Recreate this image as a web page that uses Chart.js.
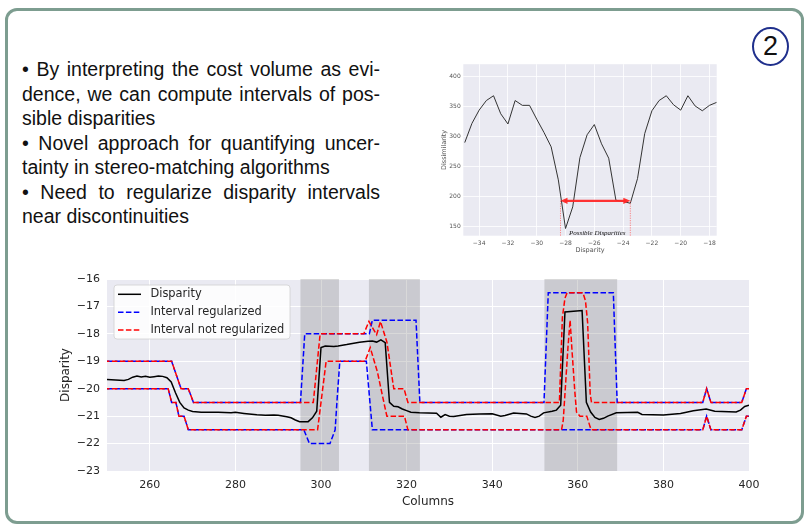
<!DOCTYPE html>
<html>
<head>
<meta charset="utf-8">
<script src="https://cdn.jsdelivr.net/npm/chart.js@4.4.1/dist/chart.umd.min.js"></script>
<style>
  html, body { margin: 0; padding: 0; background: #fff; }
  body { width: 809px; height: 527px; position: relative; overflow: hidden; }
  #frame { position: absolute; left: 5px; top: 8px; width: 799px; height: 516px; box-sizing: border-box;
           border: 3px solid #7d9d90; border-radius: 12px; }
  #bullets { position: absolute; left: 22px; top: 57px; width: 358px; color: #111;
             font-family: 'Liberation Sans', Arial, sans-serif; font-size: 19.5px; line-height: 24.5px; }
  #bullets .j { text-align: justify; text-align-last: justify; }
  #badge { position: absolute; left: 752px; top: 27px; width: 37px; height: 39px; box-sizing: border-box;
           border: 2px solid #1f2f8c; border-radius: 50%; display: flex; align-items: center; justify-content: center;
           font-family: 'Liberation Sans', Arial, sans-serif; font-size: 27px; color: #111; }
  #insetBox { position: absolute; left: 430px; top: 58px; width: 300px; height: 205px; }
  #mainBox { position: absolute; left: 40px; top: 262px; width: 730px; height: 258px; }
</style>
</head>
<body>
<div id="frame"></div>
<div id="bullets">
  <div class="j">• By interpreting the cost volume as evi-</div>
  <div class="j">dence, we can compute intervals of pos-</div>
  <div>sible disparities</div>
  <div class="j">• Novel approach for quantifying uncer-</div>
  <div>tainty in stereo-matching algorithms</div>
  <div class="j">• Need to regularize disparity intervals</div>
  <div>near discontinuities</div>
</div>
<div id="badge">2</div>
<div id="insetBox"><canvas id="inset"></canvas></div>
<div id="mainBox"><canvas id="main"></canvas></div>

<script>
// ---- main chart data: [column, disparity] ----
const xTicks = [260, 280, 300, 320, 340, 360, 380, 400];
const yTicks = [-23, -22, -21, -20, -19, -18, -17, -16];
const grayBands = [[295.2, 304.2], [311.2, 323.1], [352.2, 369.2]];

const disparity = [
  [250, -19.66], [252, -19.68], [254, -19.7], [255, -19.66], [256, -19.58], [257, -19.54], [258, -19.57],
  [259, -19.55], [260, -19.58], [261, -19.56], [262, -19.54], [263, -19.55], [264, -19.6], [265, -19.75],
  [266, -20.15], [267, -20.5], [268, -20.7], [269, -20.78], [270, -20.83], [272, -20.86], [276, -20.86],
  [279, -20.88], [280, -20.86], [282, -20.9], [285, -20.95], [287, -20.97], [289, -20.96], [290, -20.97],
  [292, -21.02], [293, -21.06], [294, -21.14], [295, -21.2], [297, -21.2], [298, -21.06], [299, -20.82],
  [300, -18.5], [301, -18.44], [303, -18.46], [304, -18.44], [306, -18.39], [307, -18.36], [309, -18.31],
  [311, -18.27], [312, -18.26], [313, -18.3], [314, -18.22], [315, -18.32], [316, -20.5], [317, -20.64],
  [318, -20.66], [319, -20.74], [320, -20.8], [321, -20.86], [323, -20.88], [327, -20.89], [328, -21.04],
  [329, -20.94], [330, -21.0], [331, -21.01], [334, -20.94], [337, -20.92], [340, -20.91], [342, -21.0],
  [343, -20.98], [345, -20.89], [348, -20.92], [349, -21.0], [350, -21.05], [351, -21.0], [352, -20.88],
  [354, -20.82], [355, -20.78], [356, -20.6], [357, -17.2], [361, -17.15], [362, -20.5], [363, -20.85],
  [364, -21.05], [365, -21.12], [366, -21.08], [367, -21.0], [369, -20.88], [374, -20.86], [375, -20.94],
  [380, -20.96], [384, -20.9], [387, -20.8], [390, -20.74], [392, -20.82], [397, -20.85], [398, -20.78],
  [399, -20.65], [400, -20.6]
];

const regUpper = [
  [250, -19], [265.1, -19], [267.3, -20], [269, -20], [270.2, -20.5], [295.2, -20.5], [296.2, -18],
  [311.3, -18], [312, -17.5], [322.2, -17.5], [323.1, -20.5], [352.1, -20.5], [353.1, -16.5],
  [368.3, -16.5], [369.2, -20.5], [389.2, -20.5], [390.1, -20], [391.1, -20.5], [398.3, -20.5],
  [399.4, -20], [400, -20]
];
const regLower = [
  [250, -20], [264.3, -20], [265.1, -20.5], [266.1, -20.5], [266.8, -21], [268, -21], [269, -21.5],
  [296, -21.5], [297.3, -22], [302.1, -22], [303.3, -21.5], [303.8, -20.3], [304.4, -19], [310.6, -19],
  [312, -21.5], [389.2, -21.5], [390.1, -21], [391.1, -21.5], [398.3, -21.5], [399.4, -21], [400, -21]
];
const rawUpper = [
  [250, -19], [265.1, -19], [267.3, -20], [269, -20], [270.2, -20.5], [298.2, -20.5], [299.8, -18],
  [310, -18], [311.2, -17.55], [313, -18.03], [313.9, -17.55], [315.4, -18.3], [317, -20], [319.4, -20],
  [320.3, -20.5], [355.7, -20.5], [356.4, -17.4], [357, -16.7], [357.5, -16.5], [361.2, -16.5],
  [361.8, -16.8], [362.3, -17.6], [362.9, -20.2], [363.2, -20.5], [389.2, -20.5], [390.1, -20],
  [391.1, -20.5], [398.3, -20.5], [399.4, -20], [400, -20]
];
const rawLower = [
  [250, -20], [264.3, -20], [265.1, -20.5], [266.1, -20.5], [266.8, -21], [268, -21], [269, -21.5],
  [299.2, -21.5], [301.2, -19], [310.3, -19], [311.5, -18.5], [313.2, -19.4], [315.1, -20.8], [315.4, -21],
  [319.5, -21], [320.3, -21.5], [356.2, -21.5], [356.6, -21.15], [357.2, -19.7], [357.7, -18.5],
  [358.2, -17.5], [358.6, -18.5], [359.3, -20.1], [359.7, -20.85], [360.5, -21], [362.1, -21],
  [362.9, -21.4], [363.2, -21.5], [389.2, -21.5], [390.1, -21], [391.1, -21.5], [398.3, -21.5],
  [399.4, -21], [400, -21]
];

// ---- inset data: dissimilarity curve ----
const costDisp = [-35, -34.5, -34, -33.5, -33, -32.5, -32, -31.5, -31, -30.5, -30, -29.5, -29, -28.5,
  -28, -27.5, -27, -26.5, -26, -25.5, -25, -24.5, -24, -23.5, -23, -22.5, -22, -21.5, -21, -20.5,
  -20, -19.5, -19, -18.5, -18, -17.5];
const costVals = [290, 322, 344, 360, 368, 338, 321, 360, 352, 352, 329, 307, 283, 228, 147, 183, 265,
  303, 320, 288, 264, 194, 192, 189, 230, 305, 343, 360, 368, 353, 344, 368, 351, 343, 352, 357];
const insetXTicks = [-34, -32, -30, -28, -26, -24, -22, -20, -18];
const insetYTicks = [150, 200, 250, 300, 350, 400];
const possibleRange = [-28.35, -23.5];
const arrowLevel = 193;

const minus = v => String(v).replace('-', '\u2212');
const pts = arr => arr.map(([x, y]) => ({ x, y }));
const DASH = [5.5, 2.4];
const tickFont = { family: 'DejaVu Sans', size: 11 };

const plotBg = {
  id: 'plotBg',
  beforeDraw(chart) {
    const { ctx, chartArea: a } = chart;
    ctx.save();
    ctx.fillStyle = '#eaeaf2';
    ctx.fillRect(a.left, a.top, a.width, a.height);
    ctx.restore();
  },
};

const bands = {
  id: 'bands',
  beforeDatasetsDraw(chart) {
    const { ctx, chartArea: a, scales: { x } } = chart;
    ctx.save();
    ctx.fillStyle = 'rgba(128,128,128,0.3)';
    grayBands.forEach(([c0, c1]) => {
      const p0 = x.getPixelForValue(c0), p1 = x.getPixelForValue(c1);
      ctx.fillRect(p0, a.top, p1 - p0, a.height);
    });
    ctx.restore();
  },
};

const legendBox = {
  id: 'legendBox',
  afterDatasetsDraw(chart) {
    const { ctx, chartArea: a } = chart;
    const left = a.left + 7, top = a.top + 6;
    ctx.save();
    ctx.fillStyle = 'rgba(255,255,255,0.85)';
    ctx.strokeStyle = '#d0d0d0';
    ctx.lineWidth = 0.8;
    ctx.beginPath();
    ctx.roundRect(left, top, 176, 54, 3);
    ctx.fill();
    ctx.stroke();
    const rows = [
      ['Disparity', '#000000', []],
      ['Interval regularized', '#0000ff', DASH],
      ['Interval not regularized', '#ff0000', DASH],
    ];
    ctx.font = '11.4px "DejaVu Sans"';
    ctx.textBaseline = 'middle';
    rows.forEach(([txt, col, dash], i) => {
      const y = a.top + 15.3 + i * 17.9;
      ctx.strokeStyle = col;
      ctx.lineWidth = 1.5;
      ctx.setLineDash(dash);
      ctx.beginPath();
      ctx.moveTo(left + 4, y);
      ctx.lineTo(left + 27, y);
      ctx.stroke();
      ctx.setLineDash([]);
      ctx.fillStyle = '#262626';
      ctx.fillText(txt, left + 36.5, y);
    });
    ctx.restore();
  },
};

new Chart(document.getElementById('main'), {
  type: 'line',
  data: {
    datasets: [
      { label: 'Disparity', data: pts(disparity), borderColor: '#000000', borderWidth: 1.5, order: 0 },
      { label: 'Interval regularized', data: pts(regUpper), borderColor: '#0000ff', borderWidth: 1.5, borderDash: DASH, order: 2 },
      { label: 'Interval regularized', data: pts(regLower), borderColor: '#0000ff', borderWidth: 1.5, borderDash: DASH, order: 2 },
      { label: 'Interval not regularized', data: pts(rawUpper), borderColor: '#ff0000', borderWidth: 1.5, borderDash: DASH, borderDashOffset: 3, order: 1 },
      { label: 'Interval not regularized', data: pts(rawLower), borderColor: '#ff0000', borderWidth: 1.5, borderDash: DASH, borderDashOffset: 3, order: 1 },
    ],
  },
  options: {
    responsive: true,
    maintainAspectRatio: false,
    animation: false,
    layout: { padding: { left: 0, top: 17, right: 21, bottom: 0 } },
    elements: { point: { radius: 0 }, line: { tension: 0, fill: false } },
    plugins: { legend: { display: false }, tooltip: { enabled: false } },
    scales: {
      x: {
        type: 'linear', min: 250, max: 400,
        afterBuildTicks: s => { s.ticks = xTicks.map(v => ({ value: v })); },
        afterFit: s => { s.height = 49; },
        grid: { color: '#ffffff', lineWidth: 1, drawTicks: false },
        border: { display: false },
        ticks: { padding: 8, color: '#262626', font: tickFont, maxRotation: 0 },
        title: { display: true, text: 'Columns', color: '#262626', font: { family: 'DejaVu Sans', size: 12 }, padding: { top: 0, bottom: 11 } },
      },
      y: {
        type: 'linear', min: -23, max: -16,
        afterBuildTicks: s => { s.ticks = yTicks.map(v => ({ value: v })); },
        afterFit: s => { s.width = 67; },
        grid: { color: '#ffffff', lineWidth: 1, drawTicks: false },
        border: { display: false },
        ticks: { padding: 7, color: '#262626', font: tickFont, callback: v => minus(v) },
        title: { display: true, text: 'Disparity', color: '#262626', font: { family: 'DejaVu Sans', size: 12 }, padding: { top: 18.8, bottom: 0 } },
      },
    },
  },
  plugins: [plotBg, bands, legendBox],
});

// ---- inset ----
const intervalMarks = {
  id: 'intervalMarks',
  afterDatasetsDraw(chart) {
    const { ctx, chartArea: a, scales: { x, y } } = chart;
    const xa = x.getPixelForValue(possibleRange[0]);
    const xb = x.getPixelForValue(possibleRange[1]);
    const ya = y.getPixelForValue(arrowLevel);
    ctx.save();
    ctx.strokeStyle = 'rgba(255,90,90,0.9)';
    ctx.lineWidth = 0.8;
    ctx.setLineDash([1.2, 1.2]);
    [xa, xb].forEach(px => {
      ctx.beginPath();
      ctx.moveTo(px, ya);
      ctx.lineTo(px, a.bottom);
      ctx.stroke();
    });
    ctx.setLineDash([]);
    ctx.strokeStyle = 'rgba(255,40,40,0.95)';
    ctx.fillStyle = 'rgba(255,40,40,0.95)';
    ctx.lineWidth = 2.4;
    ctx.beginPath();
    ctx.moveTo(xa + 4, ya);
    ctx.lineTo(xb - 4, ya);
    ctx.stroke();
    [[xa, 1], [xb, -1]].forEach(([px, d]) => {
      ctx.beginPath();
      ctx.moveTo(px, ya);
      ctx.lineTo(px + 7 * d, ya - 3.2);
      ctx.lineTo(px + 7 * d, ya + 3.2);
      ctx.closePath();
      ctx.fill();
    });
    ctx.fillStyle = '#111';
    ctx.font = 'italic 7px "Liberation Serif"';
    ctx.textAlign = 'center';
    ctx.textBaseline = 'middle';
    ctx.fillText('Possible Disparities', x.getPixelForValue(-25.8), y.getPixelForValue(140));
    ctx.restore();
  },
};

const smallFont = { family: 'DejaVu Sans', size: 6 };
new Chart(document.getElementById('inset'), {
  type: 'line',
  data: {
    datasets: [{
      label: 'Dissimilarity',
      data: costDisp.map((d, i) => ({ x: d, y: costVals[i] })),
      borderColor: '#333333',
      borderWidth: 1,
    }],
  },
  options: {
    responsive: true,
    maintainAspectRatio: false,
    animation: false,
    layout: { padding: { left: 0, top: 5.3, right: 13.3, bottom: 0 } },
    elements: { point: { radius: 0 }, line: { tension: 0, fill: false } },
    plugins: { legend: { display: false }, tooltip: { enabled: false } },
    scales: {
      x: {
        type: 'linear', min: -35.1, max: -17.5,
        afterBuildTicks: s => { s.ticks = insetXTicks.map(v => ({ value: v })); },
        afterFit: s => { s.height = 27.3; },
        grid: { color: '#ffffff', lineWidth: 0.8, drawTicks: false },
        border: { display: false },
        ticks: { padding: 4, color: '#555555', font: smallFont, maxRotation: 0, callback: v => minus(v) },
        title: { display: true, text: 'Disparity', color: '#555555', font: { family: 'DejaVu Sans', size: 6.5 }, padding: { top: 0, bottom: 8.4 } },
      },
      y: {
        type: 'linear', min: 135, max: 420.5,
        afterBuildTicks: s => { s.ticks = insetYTicks.map(v => ({ value: v })); },
        afterFit: s => { s.width = 33.3; },
        grid: { color: '#ffffff', lineWidth: 0.8, drawTicks: false },
        border: { display: false },
        ticks: { padding: 2.6, color: '#555555', font: smallFont },
        title: { display: true, text: 'Dissimilarity', color: '#555555', font: { family: 'DejaVu Sans', size: 6.5 }, padding: { top: 10, bottom: 0 } },
      },
    },
  },
  plugins: [plotBg, intervalMarks],
});
</script>
</body>
</html>
